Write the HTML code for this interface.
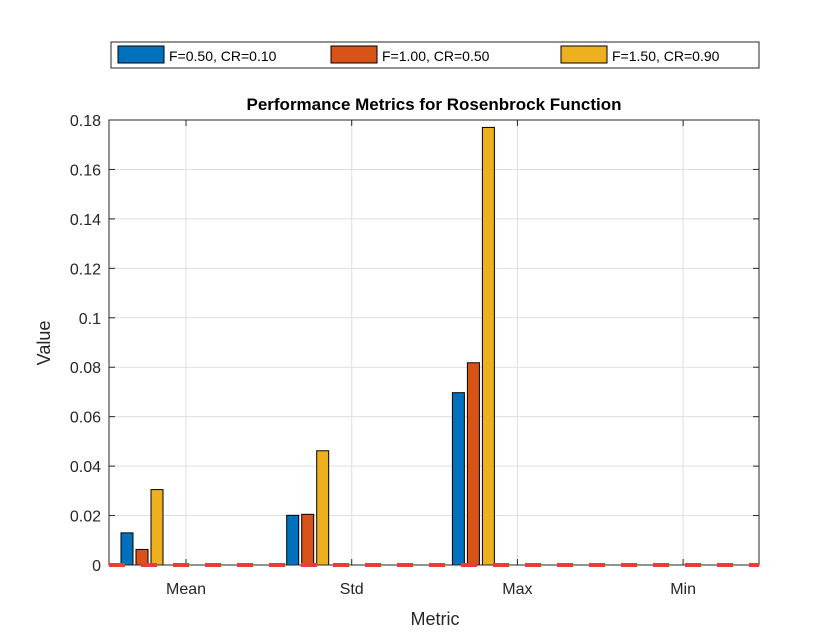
<!DOCTYPE html>
<html><head><meta charset="utf-8"><style>
body{margin:0;background:#fff;font-family:"Liberation Sans",Arial,sans-serif}
</style></head><body>
<svg width="840" height="630" xmlns="http://www.w3.org/2000/svg" font-family="Liberation Sans, Arial, sans-serif">
<rect width="840" height="630" fill="#fff"/>
<g id="grid"></g>
<g id="bars"></g>
<rect x="109" y="120" width="650" height="445" fill="none" stroke="#262626" stroke-width="1"/>
<g id="ticks"></g>
<line id="zero" x1="109" y1="565" x2="759" y2="565" stroke="#f03a3a" stroke-width="4" stroke-dasharray="16,16"/>
<text x="434" y="110" text-anchor="middle" font-size="17" font-weight="bold" fill="#000">Performance Metrics for Rosenbrock Function</text>
<text x="435" y="625" text-anchor="middle" font-size="18" fill="#262626">Metric</text>
<text transform="translate(50,343) rotate(-90)" text-anchor="middle" font-size="18" fill="#262626">Value</text>
<g>
<rect x="111" y="42" width="648" height="26" fill="#fff" stroke="#262626"/>
<g><rect x="118" y="46" width="46" height="17" fill="#0072BD" stroke="#000"/><text x="169" y="61" font-size="14" fill="#000">F=0.50, CR=0.10</text></g>
<g><rect x="331" y="46" width="46" height="17" fill="#D95319" stroke="#000"/><text x="382" y="61" font-size="14" fill="#000">F=1.00, CR=0.50</text></g>
<g><rect x="561" y="46" width="46" height="17" fill="#EDB120" stroke="#000"/><text x="612" y="61" font-size="14" fill="#000">F=1.50, CR=0.90</text></g>
</g>
</svg>
<script>
const categories=["Mean","Std","Max","Min"];
const series1=[0.013,0.0201,0.0697,0];
const series2=[0.0063,0.0205,0.0818,0];
const series3=[0.0305,0.0462,0.177,0];
const yTicks=[0,0.02,0.04,0.06,0.08,0.1,0.12,0.14,0.16,0.18];
const yTickLabels=["0","0.02","0.04","0.06","0.08","0.1","0.12","0.14","0.16","0.18"];
const NS="http://www.w3.org/2000/svg";
const X0=109,X1=759,Y0=565,Y1=120;
function xs(i){return 186+i*165.7;}
function ys(v){return Y0-(v/0.18)*(Y0-Y1);}
const grid=document.getElementById('grid'),bars=document.getElementById('bars'),ticks=document.getElementById('ticks');
function mk(tag,attrs,parent){const e=document.createElementNS(NS,tag);for(const k in attrs)e.setAttribute(k,attrs[k]);parent.appendChild(e);return e;}
yTicks.forEach((v,i)=>{
  const y=ys(v);
  if(i>0&&i<yTicks.length-1){const g=mk('line',{x1:X0,x2:X1,y1:y,y2:y,stroke:'#dfdfdf'},grid);}
  mk('line',{x1:X0,x2:X0+6,y1:y,y2:y,stroke:'#262626'},ticks);
  mk('line',{x1:X1-6,x2:X1,y1:y,y2:y,stroke:'#262626'},ticks);
  const t=mk('text',{x:X0-8,y:y+6,'text-anchor':'end','font-size':'16',fill:'#262626'},ticks);
  t.textContent=yTickLabels[i];
  
  
});
categories.forEach((c,i)=>{
  const x=xs(i);
  const g=mk('line',{x1:x,x2:x,y1:Y1,y2:Y0,stroke:'#dfdfdf'},grid);
  
  
  mk('line',{x1:x,x2:x,y1:Y0,y2:Y0-6,stroke:'#262626'},ticks);
  mk('line',{x1:x,x2:x,y1:Y1,y2:Y1+6,stroke:'#262626'},ticks);
  const t=mk('text',{x:x,y:Y0+29,'text-anchor':'middle','font-size':'16',fill:'#262626'},ticks);
  t.textContent=c;
  
  
});
const allSeries=[series1,series2,series3],colors=["#0072BD","#D95319","#EDB120"],offs=[-59,-44,-29];
allSeries.forEach((s,k)=>s.forEach((v,i)=>{
  const y=ys(v);
  const r=mk('rect',{x:xs(i)+offs[k]-6,y:y,width:12,height:Math.max(0,Y0-y),fill:colors[k],stroke:'#000','stroke-width':1},bars);
  
  
}));
</script>
</body></html>
